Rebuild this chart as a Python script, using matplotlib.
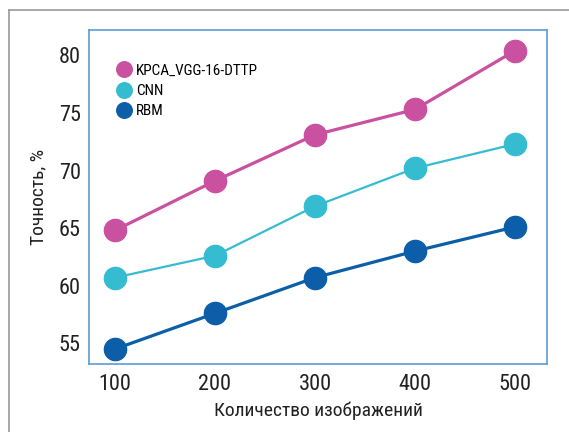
import matplotlib
matplotlib.use('Agg')
import matplotlib.pyplot as plt
from matplotlib.lines import Line2D

plt.rcParams['font.family'] = ['Roboto Condensed', 'Liberation Sans Narrow', 'Roboto', 'DejaVu Sans']

# данные
images = [100, 200, 300, 400, 500]
kpca = [64.8, 69.1, 73.1, 75.3, 80.4]
cnn = [60.7, 62.6, 66.9, 70.2, 72.3]
rbm = [54.5, 57.6, 60.7, 63.0, 65.1]
names = ['KPCA_VGG-16-DTTP', 'CNN', 'RBM']
yticks = [55, 60, 65, 70, 75, 80]

fig = plt.figure(figsize=(5.69, 4.32), dpi=100)
ax = fig.add_axes([0.1564, 0.1574, 0.8049, 0.7732])

ax.plot(images, kpca, color='#c9519f', lw=2.3, marker='o', ms=16, label=names[0])
ax.plot(images, cnn, color='#35bcd1', lw=1.6, marker='o', ms=16, label=names[1])
ax.plot(images, rbm, color='#0d5ea8', lw=2.3, marker='o', ms=16, label=names[2])

ax.set_xlim(74, 532)
ax.set_ylim(53.2, 82.2)
ax.set_xticks(images)
ax.set_yticks(yticks)
ax.tick_params(length=0, labelsize=16, colors='#222222')
ax.tick_params(axis='y', pad=6)
ax.tick_params(axis='x', pad=7)
for s in ax.spines.values():
    s.set_color('#5b9bd5')
    s.set_linewidth(1.2)

ax.set_ylabel('Точность, %', fontsize=14, color='#222222', labelpad=8)
ax.set_xlabel('Количество изображений', fontsize=14, color='#222222', labelpad=5)

leg = ax.legend(loc='upper left', bbox_to_anchor=(0.032, 0.94), frameon=False,
                fontsize=11, markerscale=0.7, handlelength=0.8,
                handletextpad=0.4, labelspacing=0.4)
for h in leg.legend_handles:
    h.set_linestyle('none')

# внешняя рамка
fig.add_artist(Line2D([9/569, 1], [1 - 10/432, 1 - 10/432], color='#999999', lw=1.2))
fig.add_artist(Line2D([9/569, 9/569], [0, 1 - 10/432], color='#999999', lw=1.2))

fig.savefig('out.png', dpi=100)
